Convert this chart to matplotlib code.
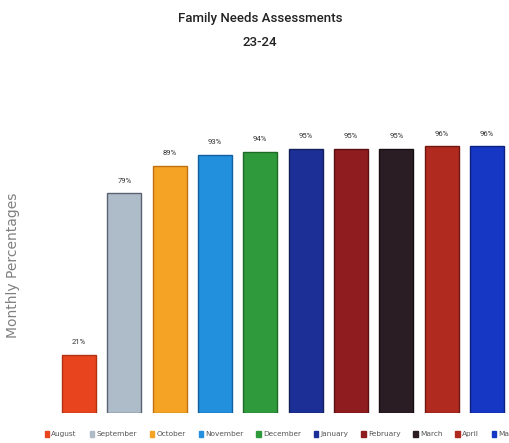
import matplotlib.pyplot as plt
from matplotlib.patches import Patch

months = ['August', 'September', 'October', 'November', 'December',
          'January', 'February', 'March', 'April', 'May']
percentages = [21, 79, 89, 93, 94, 95, 95, 95, 96, 96]
colors = ['#e8441e', '#aebbc9', '#f4a325', '#2290dc', '#2f9a3c',
          '#1c2f96', '#8f1c1e', '#2b1d24', '#b02a20', '#1537c4']
edges = ['#b03010', '#5a6272', '#c07010', '#1060a0', '#1e6a26',
         '#10205a', '#5a1010', '#150d12', '#701810', '#0c2080']

fig = plt.figure(figsize=(5.10, 4.43), dpi=100)
ax = fig.add_axes([0.0, 0.068, 1.0, 0.627])

x = list(range(len(months)))
bars = ax.bar(x, percentages, width=0.75, color=colors, edgecolor=edges, linewidth=1.0)

for xi, p in zip(x, percentages):
    ax.text(xi, p + 3.5, f'{p}%', ha='center', va='bottom', fontsize=5.5,
            color='#333333', family='Roboto')

ax.set_xlim(-1.744, 9.51)
ax.set_ylim(0, 100)
ax.axis('off')

# title block
fig.text(0.51, 0.958, 'Family Needs Assessments', ha='center', va='center',
         fontsize=9.5, color='#222222', family='Roboto', fontweight='medium')
fig.text(0.51, 0.905, '23-24', ha='center', va='center',
         fontsize=9.5, color='#222222', family='Roboto', fontweight='medium')
fig.text(0.025, 0.40, 'Monthly Percentages', rotation=90, ha='center', va='center',
         fontsize=10, color='#808080')

handles = [Patch(facecolor=c, edgecolor=c) for c in colors]
leg = fig.legend(handles, months, loc='center left', bbox_to_anchor=(0.082, 0.02),
                 ncol=10, frameon=False, fontsize=5.3, handlelength=0.6,
                 handleheight=0.9, handletextpad=0.3, columnspacing=1.75,
                 borderaxespad=0)
for t in leg.get_texts():
    t.set_color('#555555')

plt.savefig('out.png', dpi=100)
